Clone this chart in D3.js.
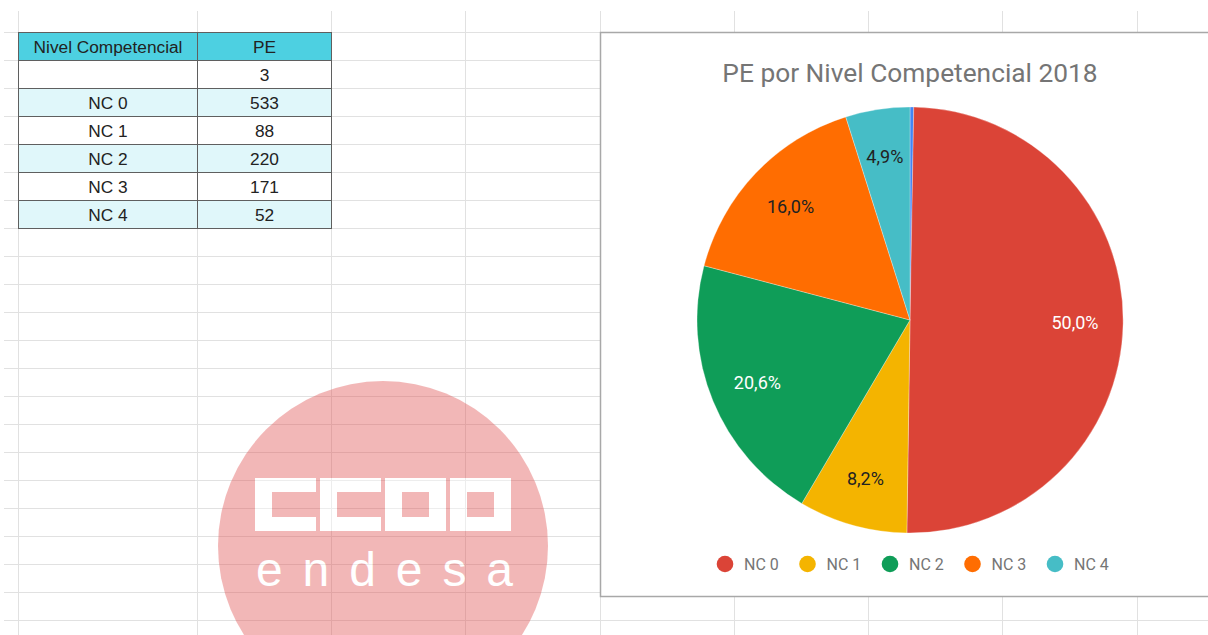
<!DOCTYPE html>
<html>
<head>
<meta charset="utf-8">
<script src="https://cdn.jsdelivr.net/npm/d3@7"></script>
<style>
  html, body { margin: 0; padding: 0; background: #fff; }
  svg { display: block; }
</style>
</head>
<body>
<svg id="sheet" width="1208" height="635"></svg>
<script>
// data
var categories = ["", "NC 0", "NC 1", "NC 2", "NC 3", "NC 4"];
var values = [3, 533, 88, 220, 171, 52];
var sliceColors = ["#4285f4", "#db4437", "#f4b400", "#0f9d58", "#ff6d01", "#46bdc6"];
var headers = ["Nivel Competencial", "PE"];
var chartTitle = "PE por Nivel Competencial 2018";

var svg = d3.select("#sheet"),
    width = +svg.attr("width"),
    height = +svg.attr("height");

var locale = d3.formatLocale({decimal: ",", thousands: ".", grouping: [3], currency: ["", "€"]});
var pct = locale.format(".1%");

// spreadsheet grid
var colX = [18, 197, 331, 465, 600, 734, 868, 1002, 1137];
var rowY = d3.range(31.7, height, 28);

var grid = svg.append("g").attr("class", "grid");
grid.selectAll("line.v")
  .data(colX)
  .enter().append("line")
  .attr("x1", function(d) { return Math.round(d) + 0.5; })
  .attr("x2", function(d) { return Math.round(d) + 0.5; })
  .attr("y1", 11).attr("y2", height)
  .attr("stroke", "#e1e1e1");
grid.selectAll("line.h")
  .data(rowY)
  .enter().append("line")
  .attr("x1", 4).attr("x2", width)
  .attr("y1", function(d) { return Math.round(d) + 0.5; })
  .attr("y2", function(d) { return Math.round(d) + 0.5; })
  .attr("stroke", "#e1e1e1");

// data table
var rows = [headers].concat(categories.map(function(c, i) { return [c, values[i]]; }));
var colW = [colX[0], colX[1], colX[2]];
var table = svg.append("g").attr("class", "table");

var tr = table.selectAll("g.row")
  .data(rows)
  .enter().append("g")
  .attr("transform", function(d, i) { return "translate(0," + (Math.round(rowY[i]) + 0.5) + ")"; });

tr.selectAll("rect")
  .data(function(d, i) { return d.map(function(v) { return {v: v, r: i}; }); })
  .enter().append("rect")
  .attr("x", function(d, j) { return colW[j] + 0.5; })
  .attr("width", function(d, j) { return colW[j + 1] - colW[j]; })
  .attr("height", 28)
  .attr("fill", function(d) {
    if (d.r == 0) return "#4dd0e1";
    return d.r % 2 == 0 ? "#e0f7fa" : "#ffffff";
  })
  .attr("stroke", "#5f5f5f")
  .attr("stroke-width", 1);

tr.selectAll("text")
  .data(function(d) { return d; })
  .enter().append("text")
  .attr("x", function(d, j) { return (colW[j] + colW[j + 1]) / 2 + 0.5; })
  .attr("y", 20)
  .attr("text-anchor", "middle")
  .attr("font-family", "Liberation Sans, Arial, sans-serif")
  .attr("font-size", 17.3)
  .attr("fill", "#222")
  .text(function(d) { return d; });

// watermark logo
var logo = svg.append("g").attr("opacity", 0.4);
logo.append("circle")
  .attr("cx", 383).attr("cy", 546).attr("r", 165)
  .attr("fill", "rgb(225,78,78)");

var letterX = [255, 320, 385, 450];
var lw = 61, lh = 53, ly = 478, sv = 17, sh = 14;
logo.selectAll("path.letter")
  .data(["C", "C", "O", "O"])
  .enter().append("path")
  .attr("fill", "#fff")
  .attr("fill-rule", "evenodd")
  .attr("d", function(d, i) {
    var x = letterX[i];
    var outer = "M" + x + "," + ly + "h" + lw + "v" + lh + "h" + (-lw) + "Z";
    var inner;
    if (d == "C") {
      inner = "M" + (x + sv) + "," + (ly + sh) + "h" + (lw - sv) + "v" + (lh - 2 * sh) + "h" + (-(lw - sv)) + "Z";
    } else {
      inner = "M" + (x + sv) + "," + (ly + sh) + "h" + (lw - 2 * sv) + "v" + (lh - 2 * sh) + "h" + (-(lw - 2 * sv)) + "Z";
    }
    return outer + inner;
  });
logo.append("text")
  .attr("x", 256).attr("y", 586)
  .attr("textLength", 257)
  .attr("lengthAdjust", "spacing")
  .attr("font-family", "Liberation Sans, Arial, sans-serif")
  .attr("font-size", 48)
  .attr("fill", "#fff")
  .text("endesa");

// chart panel
var panel = svg.append("g").attr("class", "chart");
panel.append("rect")
  .attr("x", 600.5).attr("y", 32.5)
  .attr("width", 620).attr("height", 564)
  .attr("fill", "#fff")
  .attr("stroke", "#a8a8a8")
  .attr("stroke-width", 1.5);

panel.append("text")
  .attr("x", 910).attr("y", 82)
  .attr("text-anchor", "middle")
  .attr("font-family", "Roboto, sans-serif")
  .attr("font-size", 26.3)
  .attr("fill", "#757575")
  .text(chartTitle);

var cx = 910, cy = 320, radius = 213;
var total = d3.sum(values);

var pie = d3.pie().sort(null).value(function(d) { return d; });
var arc = d3.arc().innerRadius(0).outerRadius(radius);
var labelArc = d3.arc().innerRadius(165).outerRadius(165);

var arcs = pie(values);
var pieG = panel.append("g").attr("transform", "translate(" + cx + "," + cy + ")");

pieG.selectAll("path")
  .data(arcs)
  .enter().append("path")
  .attr("d", arc)
  .attr("fill", function(d, i) { return sliceColors[i]; })
  .attr("stroke", "#fff")
  .attr("stroke-opacity", 0.6)
  .attr("stroke-width", 0.5);

pieG.selectAll("text")
  .data(arcs.filter(function(d) { return d.value / total > 0.01; }))
  .enter().append("text")
  .attr("transform", function(d) { return "translate(" + labelArc.centroid(d) + ")"; })
  .attr("dy", "0.35em")
  .attr("text-anchor", "middle")
  .attr("font-family", "Roboto, sans-serif")
  .attr("font-size", 18)
  .attr("fill", function(d) {
    var l = d3.lab(sliceColors[d.index]).l;
    return l < 60 ? "#ffffff" : "#222222";
  })
  .text(function(d) { return pct(d.value / total); });

// legend
var legendItems = categories.map(function(c, i) { return {name: c, color: sliceColors[i]}; })
  .filter(function(d) { return d.name != ""; });
var legendX = d3.scalePoint().domain(legendItems.map(function(d) { return d.name; })).range([725, 1055]);

var legend = panel.selectAll("g.legend")
  .data(legendItems)
  .enter().append("g")
  .attr("transform", function(d) { return "translate(" + legendX(d.name) + ",564)"; });
legend.append("circle")
  .attr("r", 8.3)
  .attr("fill", function(d) { return d.color; });
legend.append("text")
  .attr("x", 19)
  .attr("dy", "0.35em")
  .attr("font-family", "Roboto, sans-serif")
  .attr("font-size", 16)
  .attr("fill", "#757575")
  .text(function(d) { return d.name; });
</script>
</body>
</html>
